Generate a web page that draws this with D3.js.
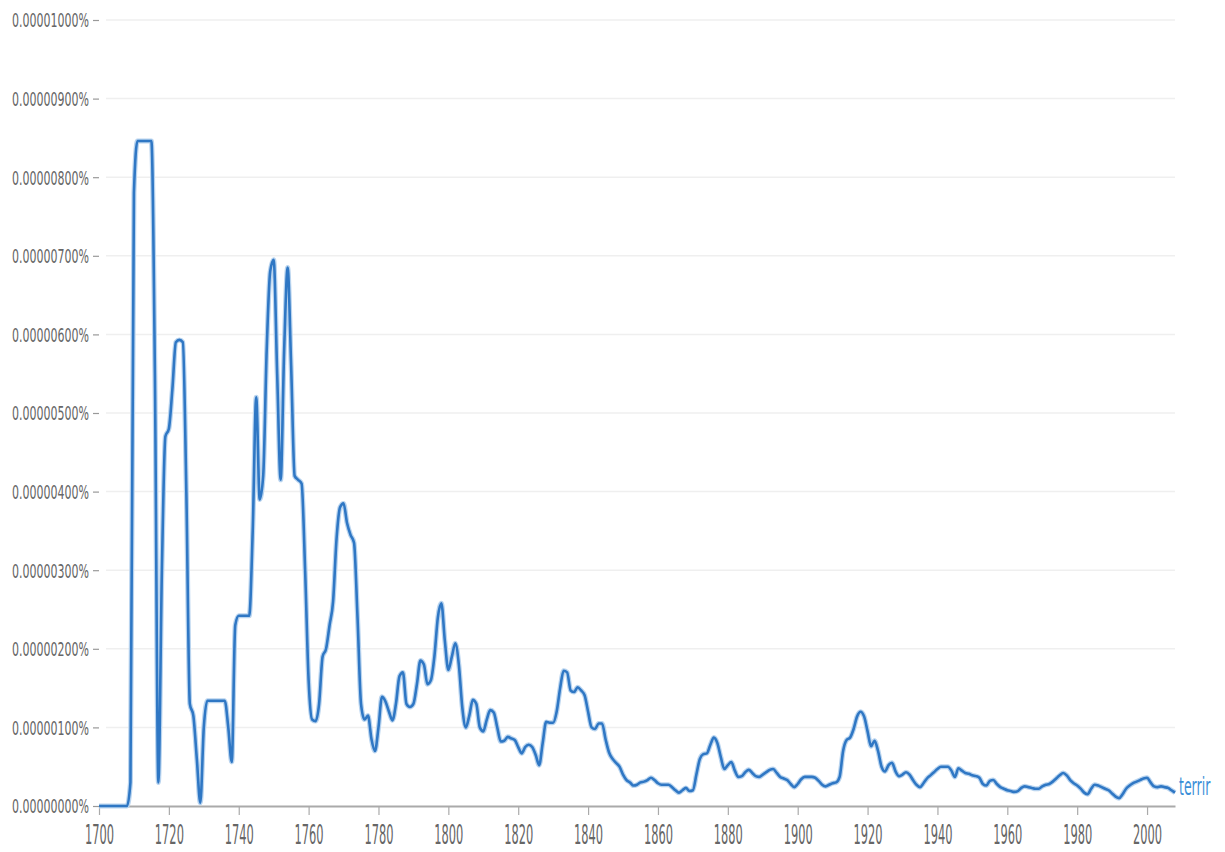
<!DOCTYPE html>
<html>
<head>
<meta charset="utf-8">
<script src="https://cdn.jsdelivr.net/npm/d3@7"></script>
<style>
    body { margin: 0; background: #fff; }
    text { font-family: "DejaVu Sans Condensed", "DejaVu Sans", sans-serif; }
</style>
</head>
<body>
<div id="chart"></div>
<script>
// SVG size and margins
var svgWidth = 1225;
var svgHeight = 852;

var margin = { top: 20, right: 50, bottom: 46, left: 99 };

var width = svgWidth - margin.left - margin.right;
var height = svgHeight - margin.top - margin.bottom;

// Data: yearly frequency of "terrir", in millionths of a percent (1 = 0.00000100%)
var startYear = 1700;
var endYear = 2008;
var seriesName = "terrir";
var freq = [
    // 1700-1709
    0, 0, 0, 0, 0, 0, 0, 0, 0, 0.3,
    // 1710-1719
    7.8, 8.46, 8.46, 8.46, 8.46, 8.46, 5.5, 0.3, 3.0, 4.7,
    // 1720-1729
    4.8, 5.3, 5.9, 5.93, 5.9, 4.0, 1.3, 1.15, 0.6, 0.04,
    // 1730-1739
    1.0, 1.34, 1.34, 1.34, 1.34, 1.34, 1.34, 1.0, 0.56, 2.3,
    // 1740-1749
    2.42, 2.42, 2.42, 2.42, 3.5, 5.2, 3.9, 4.2, 5.8, 6.8,
    // 1750-1759
    6.95, 5.5, 4.15, 5.8, 6.85, 5.6, 4.2, 4.15, 4.1, 3.0,
    // 1760-1769
    1.6, 1.1, 1.08, 1.3, 1.9, 2.0, 2.3, 2.6, 3.4, 3.8,
    // 1770-1779
    3.85, 3.6, 3.45, 3.35, 2.4, 1.3, 1.1, 1.15, 0.85, 0.7,
    // 1780-1789
    1.0, 1.39, 1.33, 1.2, 1.09, 1.3, 1.65, 1.7, 1.3, 1.26,
    // 1790-1799
    1.3, 1.55, 1.85, 1.8, 1.55, 1.6, 1.9, 2.4, 2.58, 2.1,
    // 1800-1809
    1.73, 1.9, 2.07, 1.8, 1.25, 1.0, 1.15, 1.35, 1.3, 1.0,
    // 1810-1819
    0.95, 1.1, 1.22, 1.19, 1.0, 0.82, 0.83, 0.88, 0.86, 0.84,
    // 1820-1829
    0.75, 0.67, 0.75, 0.78, 0.75, 0.65, 0.52, 0.8, 1.07, 1.06,
    // 1830-1839
    1.06, 1.2, 1.5, 1.72, 1.7, 1.47, 1.45, 1.51, 1.47, 1.41,
    // 1840-1849
    1.2, 1.0, 0.98, 1.05, 1.05, 0.85, 0.68, 0.6, 0.55, 0.5,
    // 1850-1859
    0.4, 0.33, 0.3, 0.26, 0.27, 0.3, 0.31, 0.33, 0.36, 0.33,
    // 1860-1869
    0.29, 0.27, 0.27, 0.27, 0.24, 0.2, 0.17, 0.2, 0.23, 0.19,
    // 1870-1879
    0.2, 0.4, 0.6, 0.66, 0.67, 0.78, 0.87, 0.8, 0.62, 0.47,
    // 1880-1889
    0.52, 0.56, 0.45, 0.37, 0.38, 0.43, 0.46, 0.42, 0.38, 0.37,
    // 1890-1899
    0.4, 0.43, 0.46, 0.47, 0.42, 0.37, 0.35, 0.33, 0.28, 0.24,
    // 1900-1909
    0.28, 0.34, 0.37, 0.37, 0.37, 0.36, 0.32, 0.27, 0.25, 0.27,
    // 1910-1919
    0.29, 0.3, 0.37, 0.7, 0.84, 0.87, 0.98, 1.14, 1.2, 1.14,
    // 1920-1929
    0.95, 0.76, 0.83, 0.7, 0.5, 0.44, 0.52, 0.55, 0.44, 0.38,
    // 1930-1939
    0.4, 0.43, 0.4, 0.33, 0.27, 0.24, 0.29, 0.35, 0.39, 0.43,
    // 1940-1949
    0.47, 0.5, 0.5, 0.5, 0.45, 0.37, 0.48, 0.45, 0.42, 0.41,
    // 1950-1959
    0.39, 0.38, 0.36, 0.28, 0.26, 0.32, 0.33, 0.28, 0.24, 0.22,
    // 1960-1969
    0.2, 0.19, 0.18, 0.19, 0.23, 0.25, 0.24, 0.23, 0.22, 0.22,
    // 1970-1979
    0.25, 0.27, 0.28, 0.31, 0.35, 0.39, 0.42, 0.39, 0.33, 0.29,
    // 1980-1989
    0.26, 0.22, 0.17, 0.15, 0.22, 0.27, 0.26, 0.24, 0.22, 0.2,
    // 1990-1999
    0.16, 0.12, 0.1, 0.15, 0.22, 0.26, 0.29, 0.31, 0.33, 0.35,
    // 2000-2008
    0.36, 0.3, 0.25, 0.24, 0.25, 0.24, 0.23, 0.2, 0.17
];
var yTicks = [0, 1, 2, 3, 4, 5, 6, 7, 8, 9, 10];
var xTicks = [1700, 1720, 1740, 1760, 1780, 1800, 1820, 1840, 1860, 1880,
    1900, 1920, 1940, 1960, 1980, 2000];

var data = freq.map((v, i) => ({ year: startYear + i, value: v }));

var svg = d3.select("#chart")
    .append("svg")
    .attr("width", svgWidth)
    .attr("height", svgHeight);

var chartGroup = svg.append("g")
    .attr("transform", `translate(${margin.left}, ${margin.top})`);

// scales
var xScale = d3.scaleLinear()
    .domain([startYear, endYear])
    .range([0, width]);

var yScale = d3.scaleLinear()
    .domain([0, 10])
    .range([height, 0]);

// horizontal grid
chartGroup.append("g")
    .selectAll("line")
    .data(yTicks.slice(1))
    .enter()
    .append("line")
    .attr("x1", 7)
    .attr("x2", width)
    .attr("y1", d => yScale(d))
    .attr("y2", d => yScale(d))
    .attr("stroke", "#efefef")
    .attr("stroke-width", 1.5);

// y axis (labels are squeezed like the original)
var leftAxis = d3.axisLeft(yScale)
    .tickValues(yTicks)
    .tickSize(6)
    .tickPadding(0)
    .tickFormat(d => (d / 1e6).toFixed(8) + "%");

var yAxis = chartGroup.append("g").call(leftAxis);
yAxis.select(".domain").remove();
yAxis.selectAll("line").attr("stroke", "#999").attr("stroke-width", 1.2);
yAxis.selectAll("text")
    .attr("x", null)
    .attr("dy", "0.36em")
    .attr("transform", "translate(-10,0) scale(0.645,1)")
    .attr("fill", "#666")
    .attr("font-size", 19);

// x axis
var bottomAxis = d3.axisBottom(xScale)
    .tickValues(xTicks)
    .tickSize(9)
    .tickSizeOuter(0)
    .tickPadding(0)
    .tickFormat(d3.format("d"));

var xAxis = chartGroup.append("g")
    .attr("transform", `translate(0, ${height})`)
    .call(bottomAxis);
xAxis.select(".domain").attr("stroke", "#aaa").attr("stroke-width", 2);
xAxis.selectAll("line").attr("stroke", "#aaa").attr("stroke-width", 1.2);
xAxis.selectAll("text")
    .attr("y", null)
    .attr("dy", null)
    .attr("transform", "translate(0,38) scale(0.47,1)")
    .attr("fill", "#666")
    .attr("font-size", 27);

// the line
var line = d3.line()
    .x(d => xScale(d.year))
    .y(d => yScale(d.value))
    .curve(d3.curveMonotoneX);

chartGroup.append("path")
    .datum(data)
    .attr("fill", "none")
    .attr("stroke", "#b9d4ef")
    .attr("stroke-width", 5)
    .attr("stroke-linejoin", "round")
    .attr("d", line);

chartGroup.append("path")
    .datum(data)
    .attr("fill", "none")
    .attr("stroke", "#2f77c4")
    .attr("stroke-width", 2.6)
    .attr("stroke-linejoin", "round")
    .attr("d", line);

// series label at the end of the line
var last = data[data.length - 1];
chartGroup.append("text")
    .attr("transform", `translate(${xScale(last.year) + 4}, ${yScale(last.value) + 2}) scale(0.58,1)`)
    .attr("fill", "#3a8fd8")
    .attr("font-size", 24)
    .text(seriesName);
</script>
</body>
</html>
